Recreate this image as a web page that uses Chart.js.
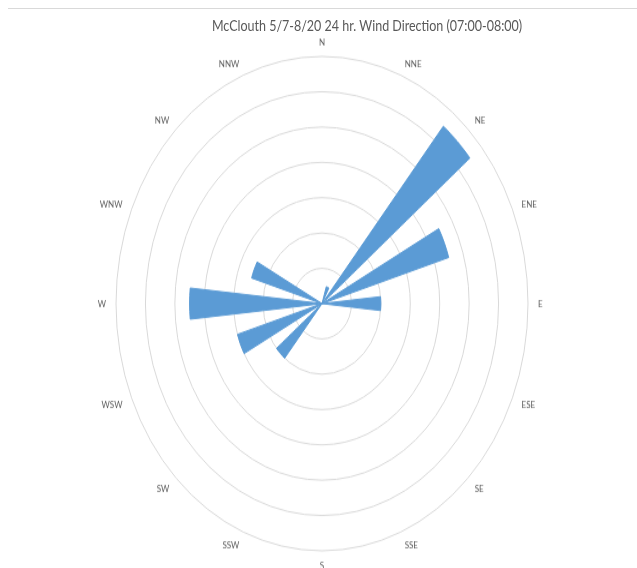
<!DOCTYPE html>
<html>
<head>
<meta charset="utf-8">
<title>McClouth Wind Direction</title>
<script src="https://cdn.jsdelivr.net/npm/chart.js@4/dist/chart.umd.min.js"></script>
<style>
    html, body { margin: 0; padding: 0; background: #fff; overflow: hidden; }
    #page { position: relative; width: 637px; height: 568px; }
    #rule { position: absolute; left: 8px; right: 0; top: 8px; height: 1px; background: #d9d9d9; }
    /* the source picture is stretched vertically, so the whole chart is too */
    #stretch { position: absolute; left: 0; top: 0; width: 637px; height: 473px; transform: scaleY(1.2); transform-origin: 0 0; }
    #title { position: absolute; top: 14px; left: 367px; transform: translateX(-50%); white-space: nowrap;
             font: 12.5px Lato, sans-serif; line-height: 15px; color: #595959; }
    #roseChart { position: absolute; left: 0; top: 0; }
</style>
</head>
<body>
<div id="page">
    <div id="rule"></div>
    <div id="stretch">
        <div id="title">McClouth 5/7-8/20 24 hr. Wind Direction (07:00-08:00)</div>
        <canvas id="roseChart" width="637" height="473"></canvas>
    </div>
</div>
<script>
// 16 compass points, clockwise from north
const directions = ['N', 'NNE', 'NE', 'ENE', 'E', 'ESE', 'SE', 'SSE',
                    'S', 'SSW', 'SW', 'WSW', 'W', 'WNW', 'NW', 'NNW'];

// hours with wind from each direction (07:00-08:00 window)
const hourCounts = [0, 2, 26, 18, 8, 0, 0, 0, 0, 0, 8, 12, 18, 10, 0, 0];

// rings of the rose
const ringMin = 0;
const ringMax = 28;
const ringStep = 4;

// each direction gets a wedge followed by an empty gap of the same width
const slotLabels = [];
const slotValues = [];
directions.forEach((dir, i) => {
    slotLabels.push(dir, '');
    slotValues.push(hourCounts[i], 0);
});

const sliceDeg = 360 / slotLabels.length;

// labels in the upper diagonals sit a little lower in the original
const lowered = ['NNE', 'NE', 'ENE', 'WNW', 'NW', 'NNW'];

new Chart(document.getElementById('roseChart'), {
    type: 'polarArea',
    data: {
        labels: slotLabels,
        datasets: [{
            label: 'Hours',
            data: slotValues,
            backgroundColor: '#5b9bd5',
            borderColor: '#5b9bd5',
            borderWidth: 1
        }]
    },
    options: {
        responsive: false,
        animation: false,
        layout: {
            padding: { top: 33, bottom: 0, left: 7, right: 0 }
        },
        plugins: {
            legend: { display: false },
            tooltip: { enabled: false }
        },
        scales: {
            r: {
                min: ringMin,
                max: ringMax,
                startAngle: -sliceDeg / 2,
                ticks: { stepSize: ringStep, display: false },
                grid: { circular: true, color: '#d9d9d9', lineWidth: 1 },
                angleLines: { display: false },
                pointLabels: {
                    display: true,
                    centerPointLabels: true,
                    padding: 10,
                    color: '#595959',
                    // small line height keeps labels centred on their anchor, like Excel
                    font: (ctx) => ({
                        family: 'Lato',
                        size: 8,
                        lineHeight: lowered.includes(ctx.label) ? 0 : 0.5
                    })
                }
            }
        }
    }
});
</script>
</body>
</html>
